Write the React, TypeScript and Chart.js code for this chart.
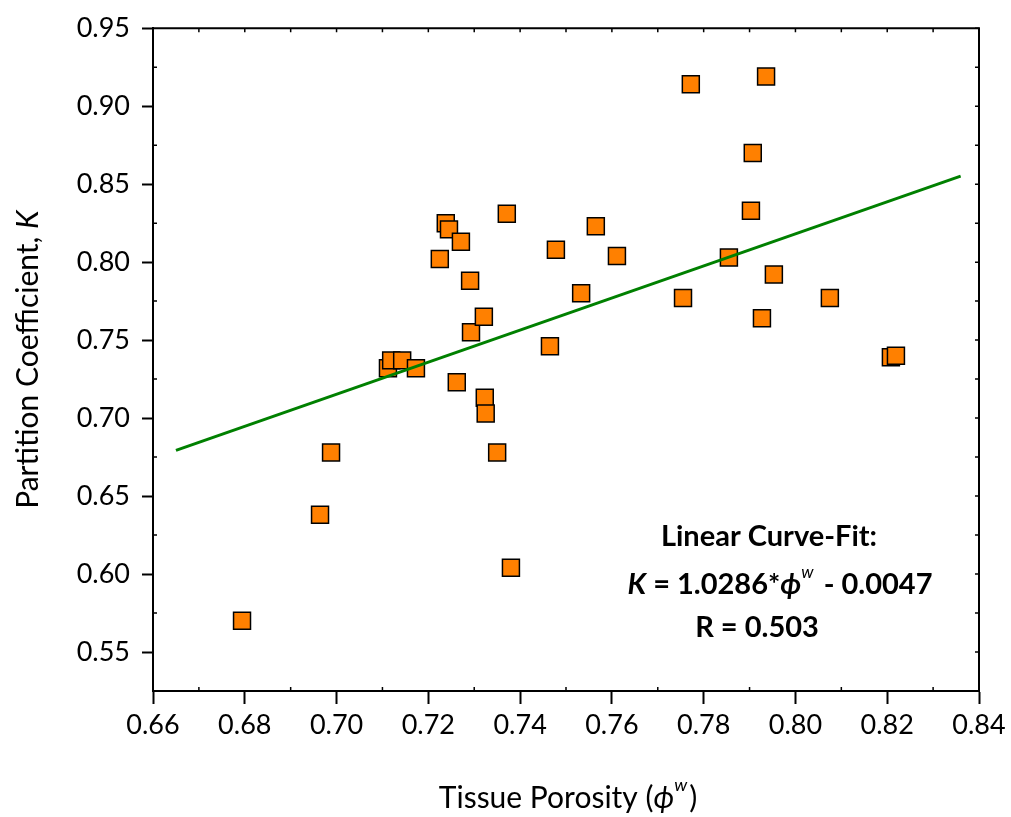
import React, { useEffect, useRef } from 'react';
import { Chart, registerables } from 'chart.js';

Chart.register(...registerables);

// ---- data ----
const porosity = [
  0.6794, 0.6964, 0.6988,
  0.7112, 0.7119, 0.7143, 0.7173,
  0.7225, 0.7238, 0.7245, 0.7271, 0.7262,
  0.7291, 0.7293, 0.7321, 0.7323, 0.7325, 0.7350, 0.7371, 0.7380,
  0.7465, 0.7478, 0.7533, 0.7565, 0.7611,
  0.7755, 0.7772, 0.7855, 0.7903, 0.7907, 0.7927, 0.7936, 0.7953,
  0.8075, 0.8208, 0.8219,
];
const partitionK = [
  0.570, 0.638, 0.678,
  0.732, 0.737, 0.737, 0.732,
  0.802, 0.825, 0.821, 0.813, 0.723,
  0.788, 0.755, 0.765, 0.713, 0.703, 0.678, 0.831, 0.604,
  0.746, 0.808, 0.780, 0.823, 0.804,
  0.777, 0.914, 0.803, 0.833, 0.870, 0.764, 0.919, 0.792,
  0.777, 0.739, 0.740,
];
const fitX = [0.665, 0.836];
const fitY = [0.6793, 0.8552];

const xTickValues = [0.66, 0.68, 0.70, 0.72, 0.74, 0.76, 0.78, 0.80, 0.82, 0.84];
const yTickValues = [0.55, 0.60, 0.65, 0.70, 0.75, 0.80, 0.85, 0.90, 0.95];
const xRange = [0.66, 0.84];
const yRange = [0.525, 0.95];

const annotationLines = ['Linear Curve-Fit:', '1.0286', '0.0047', '0.503'];
const xTitleText = 'Tissue Porosity (';
const yTitleText = 'Partition Coefficient, ';

const FONT = "Lato, 'Noto Sans', 'DejaVu Sans', sans-serif";
const PHI = '\u03D5';

type Run = { text: string; font: string; rise?: number; dx?: number; w?: number };

function drawRuns(ctx: CanvasRenderingContext2D, runs: Run[], cx: number, baseY: number) {
  let total = 0;
  for (const r of runs) {
    ctx.font = r.font;
    r.w = ctx.measureText(r.text).width + (r.dx || 0);
    total += r.w;
  }
  let x = cx - total / 2;
  ctx.textBaseline = 'alphabetic';
  ctx.textAlign = 'left';
  for (const r of runs) {
    ctx.font = r.font;
    ctx.fillText(r.text, x, baseY - (r.rise || 0));
    x += r.w || 0;
  }
}

const framePlugin = {
  id: 'frameAndText',
  afterDraw(chart: any) {
    const ctx: CanvasRenderingContext2D = chart.ctx;
    const { left, right, top, bottom } = chart.chartArea;
    const xs = chart.scales.x;
    const ys = chart.scales.y;
    ctx.save();
    ctx.strokeStyle = '#000';
    ctx.fillStyle = '#000';
    // top and right frame
    ctx.lineWidth = 2;
    ctx.beginPath();
    ctx.moveTo(left, top);
    ctx.lineTo(right, top);
    ctx.lineTo(right, bottom);
    ctx.stroke();
    // inner minor ticks
    ctx.lineWidth = 1.5;
    ctx.beginPath();
    for (let i = 0; i < xTickValues.length - 1; i++) {
      const v = (xTickValues[i] + xTickValues[i + 1]) / 2;
      const px = xs.getPixelForValue(v);
      ctx.moveTo(px, bottom);
      ctx.lineTo(px, bottom - 4);
    }
    for (let i = 0; i < yTickValues.length - 1; i++) {
      const v = (yTickValues[i] + yTickValues[i + 1]) / 2;
      const py = ys.getPixelForValue(v);
      ctx.moveTo(left, py);
      ctx.lineTo(left + 4, py);
    }
    // top axis: ticks at every half step
    for (let i = 0; i < xTickValues.length; i++) {
      const vals = [xTickValues[i]];
      if (i < xTickValues.length - 1) vals.push((xTickValues[i] + xTickValues[i + 1]) / 2);
      for (const v of vals) {
        const px = xs.getPixelForValue(v);
        ctx.moveTo(px, top);
        ctx.lineTo(px, top + 4);
      }
    }
    // right axis
    for (let i = 0; i < yTickValues.length; i++) {
      const vals = [yTickValues[i]];
      if (i < yTickValues.length - 1) vals.push((yTickValues[i] + yTickValues[i + 1]) / 2);
      for (const v of vals) {
        const py = ys.getPixelForValue(v);
        ctx.moveTo(right, py);
        ctx.lineTo(right - 4, py);
      }
    }
    ctx.stroke();

    // x title
    drawRuns(ctx, [
      { text: xTitleText, font: `30px ${FONT}` },
      { text: PHI, font: `italic 30px ${FONT}` },
      { text: 'w', font: `italic 18px ${FONT}`, rise: 17, dx: 2 },
      { text: ')', font: `30px ${FONT}` },
    ], (left + right) / 2 + 2, 808);

    // y title rotated
    ctx.save();
    ctx.translate(38, (top + bottom) / 2);
    ctx.rotate(-Math.PI / 2);
    drawRuns(ctx, [
      { text: yTitleText, font: `30px ${FONT}` },
      { text: 'K', font: `italic 30px ${FONT}` },
    ], 0, 0);
    ctx.restore();

    // annotation
    drawRuns(ctx, [{ text: annotationLines[0], font: `bold 29px ${FONT}` }], 769, 546);
    drawRuns(ctx, [
      { text: 'K', font: `italic bold 29px ${FONT}` },
      { text: ' = ' + annotationLines[1] + '*', font: `bold 29px ${FONT}` },
      { text: PHI, font: `italic bold 29px ${FONT}` },
      { text: 'w', font: `italic 17px ${FONT}`, rise: 16, dx: 3 },
      { text: ' - ' + annotationLines[2], font: `bold 29px ${FONT}` },
    ], 780, 594);
    drawRuns(ctx, [{ text: 'R = ' + annotationLines[3], font: `bold 29px ${FONT}` }], 757, 637);
    ctx.restore();
  },
};

export default function App() {
  const ref = useRef<HTMLCanvasElement | null>(null);
  useEffect(() => {
    if (!ref.current) return;
    const points = porosity.map((x, i) => ({ x, y: partitionK[i] }));
    const line = fitX.map((x, i) => ({ x, y: fitY[i] }));
    const tickFont = { family: FONT, size: 27 };
    const chart = new Chart(ref.current, {
      type: 'scatter',
      data: {
        datasets: [
          {
            type: 'line',
            label: 'fit',
            data: line,
            borderColor: '#008000',
            borderWidth: 3,
            pointRadius: 0,
            fill: false,
            order: 0,
          } as any,
          {
            label: 'data',
            data: points,
            pointStyle: 'rect',
            pointRadius: 12,
            pointBackgroundColor: '#FF8000',
            pointBorderColor: '#000',
            pointBorderWidth: 1.5,
            order: 1,
          } as any,
        ],
      },
      options: {
        animation: false,
        responsive: false,
        devicePixelRatio: 1,
        layout: { padding: { top: 26, right: 32, left: 0, bottom: 0 } },
        plugins: { legend: { display: false }, tooltip: { enabled: false } },
        scales: {
          x: {
            type: 'linear',
            min: xRange[0],
            max: xRange[1],
            afterBuildTicks: (s: any) => { s.ticks = xTickValues.map((value) => ({ value })); },
            afterFit: (s: any) => { s.height = 126; },
            ticks: {
              font: tickFont,
              color: '#000',
              padding: 5,
              maxRotation: 0,
              autoSkip: false,
              callback: (v: any) => Number(v).toFixed(2),
            },
            grid: { drawOnChartArea: false, drawTicks: true, tickLength: 13, tickColor: '#000', tickWidth: 2 },
            border: { display: true, color: '#000', width: 2 },
          },
          y: {
            type: 'linear',
            min: yRange[0],
            max: yRange[1],
            afterBuildTicks: (s: any) => { s.ticks = yTickValues.map((value) => ({ value })); },
            afterFit: (s: any) => { s.width = 153; },
            ticks: {
              font: tickFont,
              color: '#000',
              padding: 12,
              autoSkip: false,
              callback: (v: any) => Number(v).toFixed(2),
            },
            grid: { drawOnChartArea: false, drawTicks: true, tickLength: 11, tickColor: '#000', tickWidth: 2 },
            border: { display: true, color: '#000', width: 2 },
          },
        },
      },
      plugins: [framePlugin],
    });
    return () => chart.destroy();
  }, []);
  return (
    <div style={{ position: 'fixed', left: 0, top: 0, width: 1011, height: 817, background: '#fff' }}>
      <canvas ref={ref} width={1011} height={817} style={{ display: 'block' }} />
    </div>
  );
}
